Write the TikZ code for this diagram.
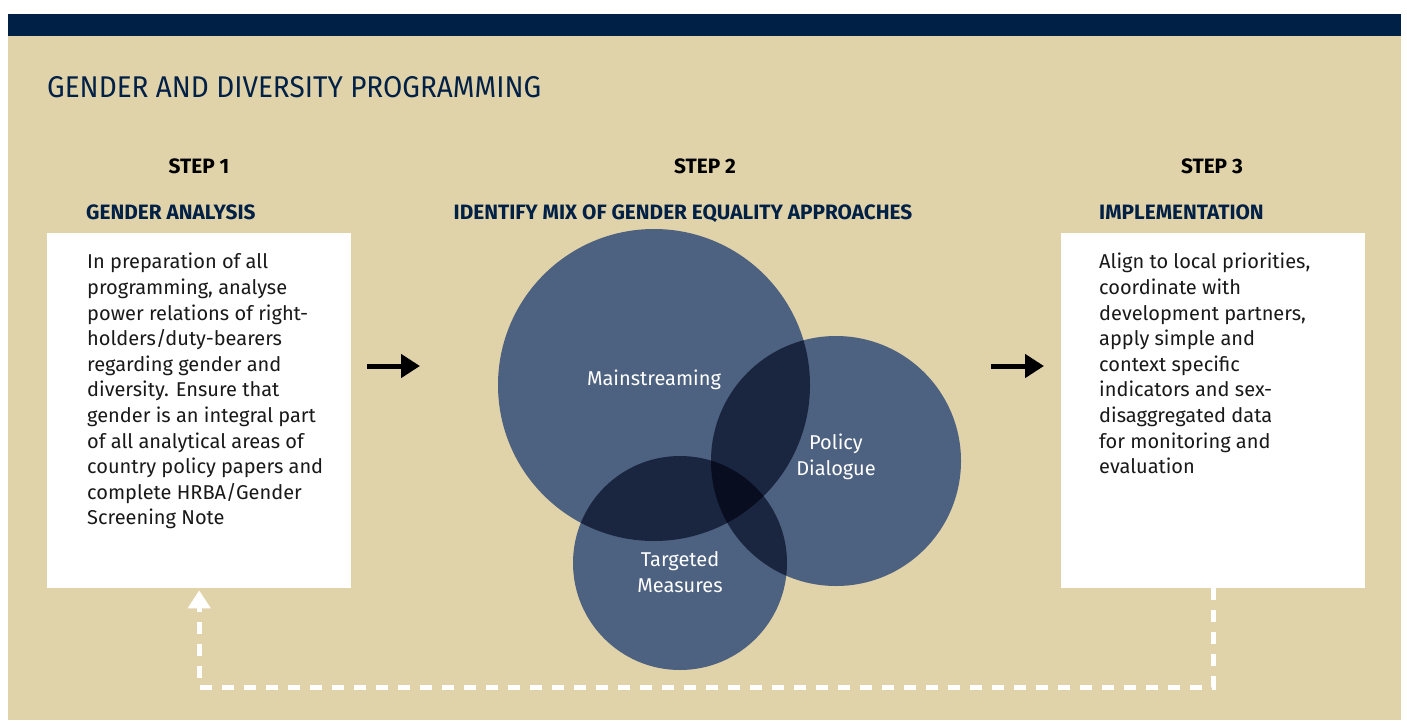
\documentclass[tikz,border=0pt]{standalone}
\usepackage{fontspec}
\setmainfont{Fira Sans}
\newfontfamily\titlefont[FakeStretch=0.93]{Fira Sans}
\newfontfamily\bodyfont{Fira Sans}
\usetikzlibrary{arrows.meta}
\definecolor{navy}{RGB}{0,32,70}
\definecolor{beige}{RGB}{225,211,169}
\definecolor{circ}{RGB}{77,97,128}
\definecolor{circtwo}{RGB}{26,37,64}
\definecolor{circthree}{RGB}{8,14,32}
\tikzset{
  whitebox/.style={fill=white, draw=none, minimum width=304pt, minimum height=355pt, inner sep=0pt},
  bodytext/.style={anchor=north west, align=left, inner sep=0pt, font=\bodyfont\fontsize{20}{25.6}\selectfont, text=black!90},
  steplabel/.style={font=\bfseries\fontsize{20.8}{22}\selectfont, text=black, inner sep=0pt},
  headlabel/.style={font=\bfseries\fontsize{20.8}{22}\selectfont, text=navy, inner sep=0pt},
  circlabel/.style={font=\fontsize{20}{25.6}\selectfont, text=white, align=center, inner sep=0pt},
  fwdarrow/.style={line width=5pt, -{Triangle[width=23pt,length=19pt]}, black},
  backline/.style={white, line width=5pt, dash pattern=on 12pt off 10pt, -{Triangle[width=22pt,length=18pt]}, shorten >=2pt}
}
\begin{document}
\begin{tikzpicture}[x=1pt,y=-1pt]
\useasboundingbox (0,0) rectangle (1407,720);
\fill[white] (0,0) rectangle (1407,720);
\fill[beige] (8,36) rectangle (1401,720);
\fill[navy] (8,14) rectangle (1401,36);
\node[anchor=base west, inner sep=0pt, text=navy, font=\titlefont\fontsize{30}{32}\selectfont] (title) at (47,97) {GENDER AND DIVERSITY PROGRAMMING};

\node[steplabel, anchor=base] (s1) at (199,173) {STEP 1};
\node[steplabel, anchor=base] (s2) at (705,173) {STEP 2};
\node[steplabel, anchor=base] (s3) at (1212,173) {STEP 3};
\node[headlabel, anchor=base west] (h1) at (86,219) {GENDER ANALYSIS};
\node[headlabel, anchor=base] (h2) at (683,219) {IDENTIFY MIX OF GENDER EQUALITY APPROACHES};
\node[headlabel, anchor=base west] (h3) at (1099,219) {IMPLEMENTATION};

\node[whitebox, anchor=north west] (lbox) at (47,233) {};
\node[whitebox, anchor=north west] (rbox) at (1061,233) {};
\node[bodytext] (ltext) at (87,253) {In preparation of all\\programming, analyse\\power relations of right-\\holders/duty-bearers\\regarding gender and\\diversity. Ensure that\\gender is an integral part\\of all analytical areas of\\country policy papers and\\complete HRBA/Gender\\Screening Note};
\node[bodytext] (rtext) at (1099,253) {Align to local priorities,\\coordinate with\\development partners,\\apply simple and\\context specific\\indicators and sex-\\disaggregated data\\for monitoring and\\evaluation};

% circles
\coordinate (cm) at (654,385);
\coordinate (cp) at (836,461);
\coordinate (ct) at (680,563);
\fill[circ] (cm) circle (156);
\fill[circ] (cp) circle (125);
\fill[circ] (ct) circle (107);
\begin{scope}
  \clip (cm) circle (156);
  \fill[circtwo] (cp) circle (125);
  \fill[circtwo] (ct) circle (107);
\end{scope}
\begin{scope}
  \clip (cp) circle (125);
  \fill[circtwo] (ct) circle (107);
  \clip (ct) circle (107);
  \fill[circthree] (cm) circle (156);
\end{scope}
\node[circle, minimum size=312pt, inner sep=0pt] (mainc) at (cm) {};
\node[circle, minimum size=250pt, inner sep=0pt] (polc) at (cp) {};
\node[circle, minimum size=214pt, inner sep=0pt] (tarc) at (ct) {};
\node[circlabel] (lm) at (654,380) {Mainstreaming};
\node[circlabel] (lp) at (836,457) {Policy\\Dialogue};
\node[circlabel] (lt) at (680,572) {Targeted\\Measures};

% forward arrows
\coordinate (a1s) at (367,366);
\coordinate (a1e) at (420,366);
\coordinate (a2s) at (991,366);
\coordinate (a2e) at (1044,366);
\draw[fwdarrow] (a1s) -- (a1e);
\draw[fwdarrow] (a2s) -- (a2e);

% feedback loop
\draw[backline] (rbox.south) -- ++(0,99) -| (lbox.south);
\end{tikzpicture}
\end{document}
